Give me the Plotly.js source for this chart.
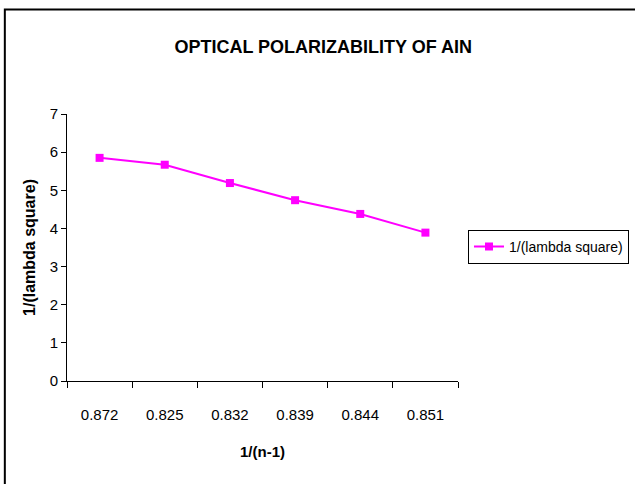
<!DOCTYPE html>
<html>
<head>
<meta charset="utf-8">
<script src="https://cdn.plot.ly/plotly-3.0.1.min.js"></script>
<style>html,body{margin:0;padding:0;background:#fff;}</style>
</head>
<body>
<div id="chart" style="width:635px;height:484px;"></div>
<script>
const categories = ["0.872", "0.825", "0.832", "0.839", "0.844", "0.851"];
const values = [5.85, 5.67, 5.19, 4.74, 4.38, 3.89];
const seriesName = "1/(lambda square)";
const chartTitle = "OPTICAL POLARIZABILITY OF AIN";
const xTitle = "1/(n-1)";
const yTitle = "1/(lambda square)";

const FONT = "Liberation Sans, Arial, sans-serif";

const trace = {
  type: "scatter",
  mode: "lines+markers",
  x: categories,
  y: values,
  name: seriesName,
  line: {color: "#FF00FF", width: 2},
  marker: {symbol: "square", size: 8, color: "#FF00FF"}
};

const layout = {
  width: 635, height: 484,
  margin: {l: 67, r: 177, t: 114, b: 103},
  paper_bgcolor: "#ffffff",
  plot_bgcolor: "#ffffff",
  font: {family: FONT, size: 14, color: "#000"},
  title: {
    text: "<b>" + chartTitle + "</b>",
    font: {family: FONT, size: 18, color: "#000"},
    xref: "container", x: 0.509, xanchor: "center",
    yref: "container", y: 0.903, yanchor: "middle"
  },
  xaxis: {
    type: "category",
    range: [-0.5, 5.5],
    tickson: "boundaries",
    ticks: "outside", ticklen: 6, tickwidth: 1, tickcolor: "#000",
    showline: true, linecolor: "#000", linewidth: 1,
    showgrid: false, zeroline: false,
    ticklabelstandoff: 20,
    tickfont: {family: FONT, size: 15},
    title: {text: "<b>" + xTitle + "</b>", font: {family: FONT, size: 15}, standoff: 24}
  },
  yaxis: {
    range: [0, 7], dtick: 1,
    ticks: "outside", ticklen: 5, tickwidth: 1, tickcolor: "#000",
    showline: true, linecolor: "#000", linewidth: 1,
    showgrid: false, zeroline: false,
    tickfont: {family: FONT, size: 15},
    title: {text: "<b>" + yTitle + "</b>", font: {family: FONT, size: 16}, standoff: 10}
  },
  showlegend: true,
  legend: {
    xref: "container", yref: "container",
    x: 0.737, xanchor: "left", y: 0.49, yanchor: "middle",
    bordercolor: "#000", borderwidth: 1, bgcolor: "#fff",
    font: {family: FONT, size: 14},
    itemwidth: 30
  },
  shapes: [{
    type: "rect", xref: "paper", yref: "paper",
    x0: -0.159, x1: 1.7, y0: -0.6, y1: 1.391,
    line: {color: "#000", width: 2}, fillcolor: "rgba(0,0,0,0)", layer: "below"
  }]
};

Plotly.newPlot("chart", [trace], layout, {displayModeBar: false, staticPlot: true});
</script>
</body>
</html>
